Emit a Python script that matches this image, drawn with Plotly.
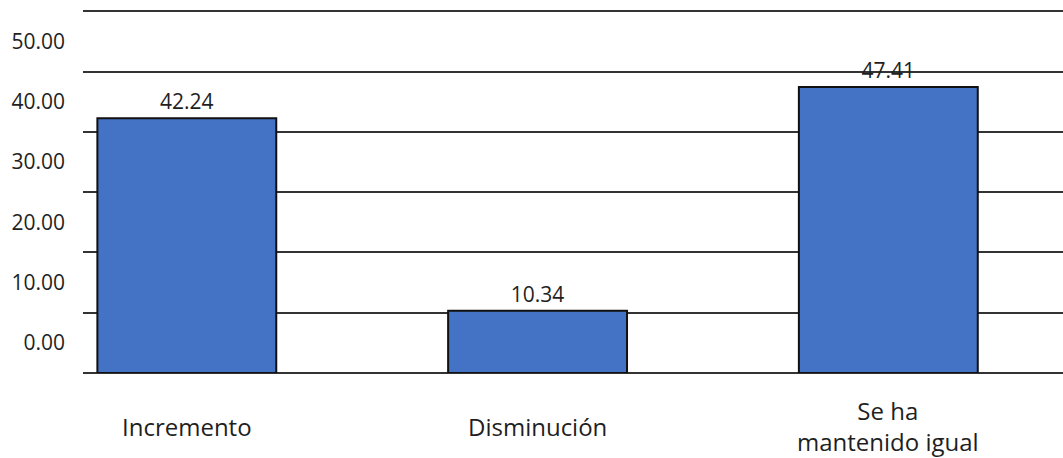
import plotly.graph_objects as go

# Share of responses per category
categories = ["Incremento", "Disminución", "Se ha<br>mantenido igual"]
values = [42.24, 10.34, 47.41]
value_labels = ["42.24", "10.34", "47.41"]

tick_values = [0, 10, 20, 30, 40, 50, 60]
tick_labels = ["0.00", "10.00", "20.00", "30.00", "40.00", "50.00", ""]

FONT = "Open Sans"
TEXT_COLOR = "#1f1f1f"
GRID_COLOR = "#333333"

fig = go.Figure(
    go.Bar(
        x=list(range(len(categories))),
        y=values,
        width=0.51,
        marker=dict(color="#4472C4", line=dict(color="#111111", width=2)),
        text=value_labels,
        textposition="outside",
        textfont=dict(family=FONT, size=21, color=TEXT_COLOR),
        cliponaxis=False,
        hoverinfo="skip",
    )
)

# Category names centred under each bar
for i, name in enumerate(categories):
    fig.add_annotation(
        x=i, xref="x", y=0, yref="paper",
        text=name, showarrow=False,
        xanchor="center", yanchor="middle", yshift=-53,
        font=dict(family=FONT, size=24, color=TEXT_COLOR),
    )

fig.update_layout(
    width=1063, height=458,
    margin=dict(l=83, r=0, t=10, b=85),
    paper_bgcolor="white", plot_bgcolor="white",
    showlegend=False,
    xaxis=dict(
        range=[-0.296, 2.498],
        showticklabels=False, showgrid=False, zeroline=False,
        showline=False, fixedrange=True,
    ),
    yaxis=dict(
        range=[0, 60.2],
        tickmode="array", tickvals=tick_values, ticktext=tick_labels,
        showgrid=True, gridcolor=GRID_COLOR, gridwidth=2,
        zeroline=True, zerolinecolor=GRID_COLOR, zerolinewidth=2,
        showline=False, ticks="",
        ticklabelshift=-30, ticklabelstandoff=17,
        tickfont=dict(family=FONT, size=21, color=TEXT_COLOR),
        fixedrange=True,
    ),
)

fig.write_html("out.html")
